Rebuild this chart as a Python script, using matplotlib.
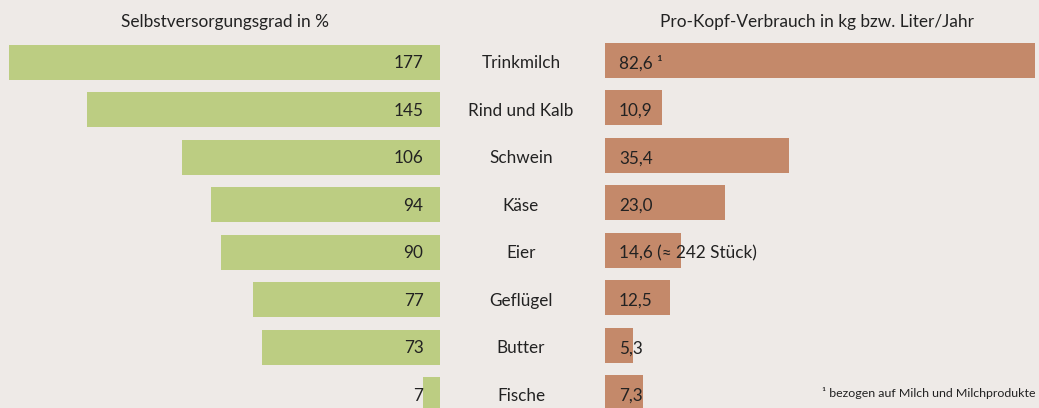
import matplotlib
matplotlib.use("Agg")
import matplotlib.pyplot as plt

categories = ["Trinkmilch", "Rind und Kalb", "Schwein", "Käse", "Eier", "Geflügel", "Butter", "Fische"]
selbstversorgung = [177, 145, 106, 94, 90, 77, 73, 7]
verbrauch = [82.6, 10.9, 35.4, 23.0, 14.6, 12.5, 5.3, 7.3]
verbrauch_labels = ["82,6 ¹", "10,9", "35,4", "23,0", "14,6 (≈ 242 Stück)", "12,5", "5,3", "7,3"]
title_left = "Selbstversorgungsgrad in %"
title_right = "Pro-Kopf-Verbrauch in kg bzw. Liter/Jahr"
footnote = "¹ bezogen auf Milch und Milchprodukte"

BG = "#EEEAE7"
GREEN = "#BCCD82"
BROWN = "#C4896A"
TXT = "#222222"
plt.rcParams['font.family'] = ['Lato', 'DejaVu Sans']

W, H = 1039, 408
fig = plt.figure(figsize=(W / 100, H / 100), dpi=100, facecolor=BG)

step_bar = 47.43
bar_h = 35 / step_bar
ys = list(range(len(categories)))


def ylim_for(row0, step):
    return ((H - row0) / step, -row0 / step)


# left axis: 0..440 px
scaleL = 2.433
axL = fig.add_axes([0, 0, 440 / W, 1])
axL.set_facecolor("none")
axL.barh(ys, selbstversorgung, height=bar_h, color=GREEN)
axL.set_xlim(440 / scaleL, 0)
axL.set_ylim(*ylim_for(62.5, step_bar))
axL.axis("off")

# right axis: 605..1039 px
scale = 430 / 82.6
axR = fig.add_axes([605 / W, 0, (W - 605) / W, 1])
axR.set_facecolor("none")
axR.barh(ys, verbrauch, height=bar_h, color=BROWN)
axR.set_xlim(0, (W - 605) / scale)
axR.set_ylim(*ylim_for(60.5, step_bar))
axR.axis("off")

# text layer (pixel-like x, rows in y)
step_txt = 47.5
axC = fig.add_axes([0, 0, 1, 1])
axC.set_facecolor("none")
axC.set_xlim(0, W)
axC.set_ylim(*ylim_for(62.0, step_txt))
axC.axis("off")
base = 6.3 / step_txt
fs = 12.3
for y, c, v, lab in zip(ys, categories, selbstversorgung, verbrauch_labels):
    axC.text(521, y + base, c, ha="center", va="baseline", fontsize=fs, color=TXT)
    axC.text(423.5, y + base, str(v), ha="right", va="baseline", fontsize=fs, color=TXT)
    axC.text(619, y + base, lab, ha="left", va="baseline", fontsize=fs, color=TXT)

fig.text(225 / W, 1 - 27 / H, title_left, ha="center", va="baseline", fontsize=12.4, color=TXT)
fig.text(817 / W, 1 - 27 / H, title_right, ha="center", va="baseline", fontsize=12.4, color=TXT)
fig.text(1036 / W, 1 - 397 / H, footnote, ha="right", va="baseline", fontsize=8.9, color=TXT)

fig.savefig("out.png", dpi=100, facecolor=BG)
